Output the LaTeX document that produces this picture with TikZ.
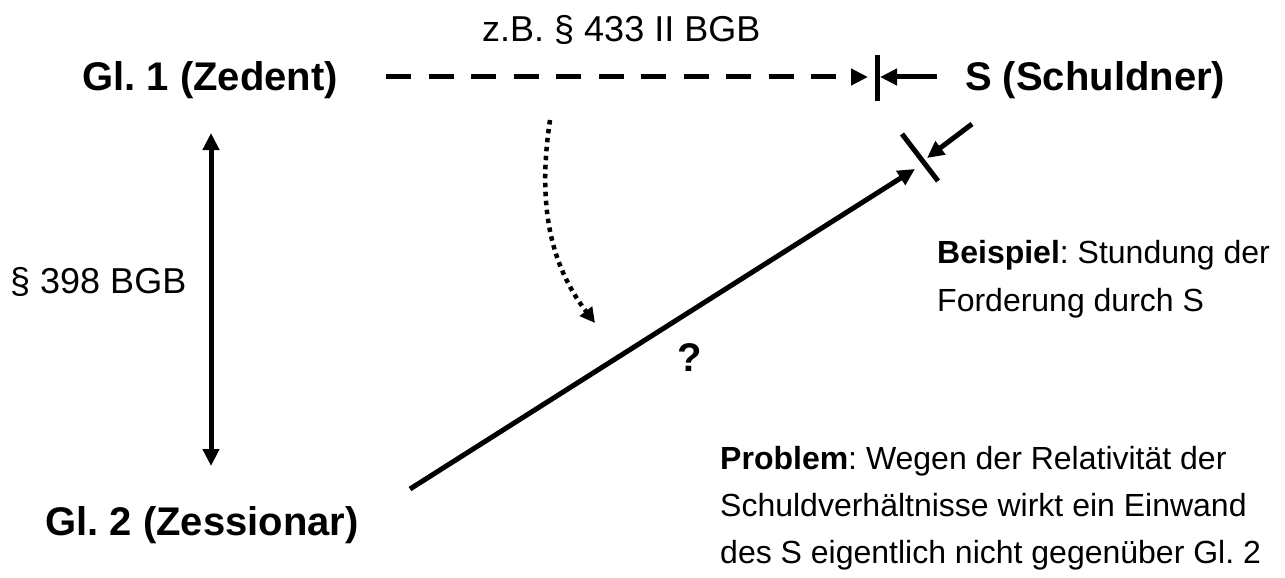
\documentclass[tikz,border=0pt]{standalone}
\usepackage{fontspec}
\setmainfont{Liberation Sans}
\usetikzlibrary{arrows.meta}
\frenchspacing
\begin{document}
\begin{tikzpicture}[x=1pt,y=-1pt,
  big/.style={font=\fontsize{40}{48}\selectfont\bfseries, inner sep=0pt, anchor=base west},
  mid/.style={font=\fontsize{36}{43}\selectfont, inner sep=0pt, anchor=base west},
  note/.style={font=\fontsize{32}{47}\selectfont, inner sep=0pt, anchor=north west, align=left},
  tri/.tip={Triangle[length=17pt,width=16pt]},
  arr/.style={line width=5pt, -tri},
  barline/.style={line width=5pt},
  dashline/.style={line width=5pt, dash pattern=on 25pt off 17.5pt, -tri},
  dotline/.style={line width=4.5pt, dash pattern=on 4.5pt off 4.5pt, -{Triangle[length=15pt,width=15pt]}},
]
\useasboundingbox (0,0) rectangle (1285,578);
% texts
\node[big] (g1) at (82,91) {Gl. 1 (Zedent)};
\node[big] (s) at (965,91) {S (Schuldner)};
\node[big] (g2) at (45,535) {Gl. 2 (Zessionar)};
\node[mid] (zb) at (482,42) {z.B. \S\ 433 II BGB};
\node[mid] (p398) at (10,293) {\S\ 398 BGB};
\node[font=\fontsize{40}{48}\selectfont\bfseries, inner sep=0pt] (q) at (690,358) {?};
\node[note, font=\fontsize{32}{48}\selectfont] (bsp) at (937,240) {\textbf{Beispiel}: Stundung der\\Forderung durch S};
\node[note] (prob) at (720,446) {\textbf{Problem}: Wegen der Relativität der\\Schuldverhältnisse wirkt ein Einwand\\des S eigentlich nicht gegenüber Gl. 2};
% coordinates
\coordinate (dstart) at (386,77);
\coordinate (dend) at (868,77);
\coordinate (bar1a) at (877,55);
\coordinate (bar1b) at (877,101);
\coordinate (sarr1) at (937,77);
\coordinate (sarr1e) at (880,77);
\coordinate (bar2a) at (902,134);
\coordinate (bar2b) at (938,181);
\coordinate (sarr2) at (972,124);
\coordinate (sarr2e) at (927,158);
\coordinate (lstart) at (410,489);
\coordinate (lend) at (915,169);
\coordinate (vtop) at (211,133);
\coordinate (vbot) at (211,466);
\coordinate (cstart) at (550,120);
\coordinate (cend) at (595,323);
% connectors
\draw[dashline] (dstart) -- (dend);
\draw[barline] (bar1a) -- (bar1b);
\draw[arr] (sarr1) -- (sarr1e);
\draw[barline] (bar2a) -- (bar2b);
\draw[arr] (sarr2) -- (sarr2e);
\draw[arr] (lstart) -- (lend);
\draw[line width=5pt, tri-tri] (vtop) -- (vbot);
\draw[dotline] (cstart) .. controls (538,200) and (548,262) .. (cend);
\end{tikzpicture}
\end{document}
